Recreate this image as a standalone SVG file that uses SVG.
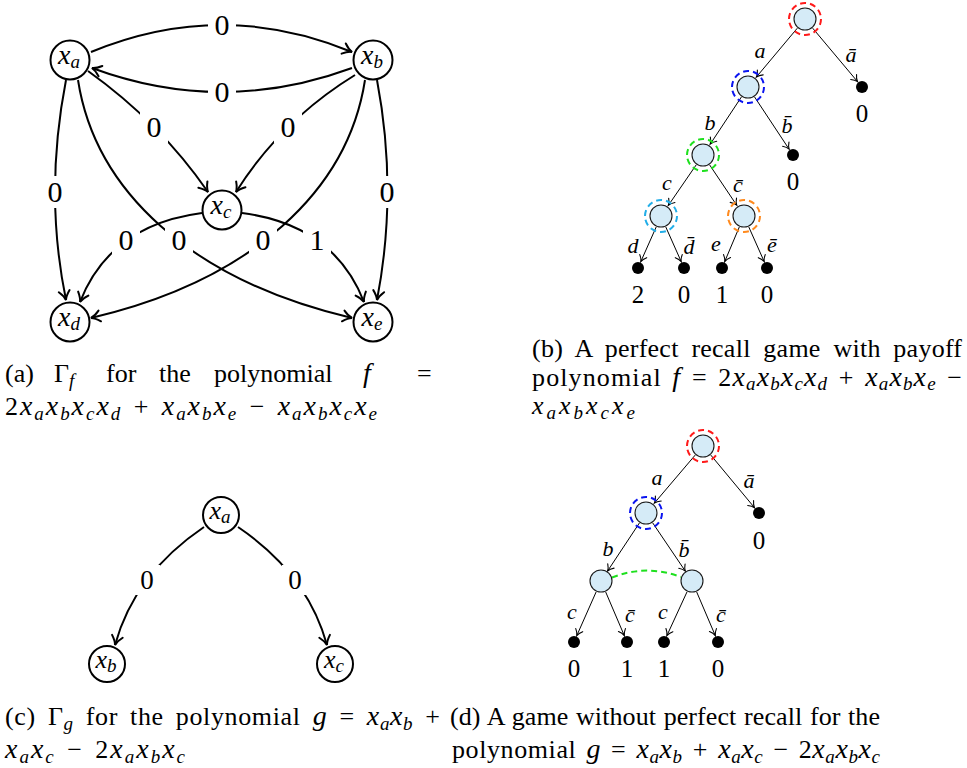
<svg xmlns="http://www.w3.org/2000/svg" width="967" height="768" viewBox="0 0 967 768" font-family="Liberation Serif, serif">
<style>
text { font-family: Liberation Serif, serif; fill: #000; }
.e { fill: none; stroke: #000; stroke-width: 2; }
.et { fill: none; stroke: #000; stroke-width: 1; }
.node { fill: #fff; stroke: #000; stroke-width: 2; }
.nl { font-style: italic; font-size: 28px; }
.nl2 { font-style: italic; font-size: 26px; }
.sub { font-size: 19px; }
.lb { fill: #fff; stroke: none; }
.lt { font-size: 30px; text-anchor: middle; }
.lt2 { font-size: 27px; text-anchor: middle; }
.tn { fill: #D5EBF7; stroke: #1a1a1a; stroke-width: 1.1; }
.leaf { fill: #000; }
.ring { fill: none; stroke-width: 2; stroke-dasharray: 6 4; }
.al { font-size: 22px; font-style: italic; text-anchor: middle; }
.pay { font-size: 25px; text-anchor: middle; }
.cap { font-size: 26px; }
.m { font-style: italic; font-size: 28px; }
.s { font-style: italic; font-size: 19px; }
</style>
<defs>
<marker id="arr" markerUnits="userSpaceOnUse" viewBox="-11 -7 13 14" refX="0" refY="0" markerWidth="13" markerHeight="14" orient="auto">
<path d="M-9,-5.5 Q-4,-1 0,0 Q-4,1 -9,5.5" fill="none" stroke="#000" stroke-width="2" stroke-linecap="round"/>
</marker>
<marker id="arrs" markerUnits="userSpaceOnUse" viewBox="-8 -5 10 10" refX="0" refY="0" markerWidth="10" markerHeight="10" orient="auto">
<path d="M-6,-3.8 Q-3,-0.8 0,0 Q-3,0.8 -6,3.8" fill="none" stroke="#000" stroke-width="1.1" stroke-linecap="round"/>
</marker>
</defs>

<!-- (a) graph Gamma_f -->
<g id="edges-a">
<path class="e" d="M91,52 Q222,-2 352,52" marker-end="url(#arr)"/>
<path class="e" d="M352,68 Q222,116 92,68" marker-end="url(#arr)"/>
<path class="e" d="M88,71 Q160,122.5 208,192" marker-end="url(#arr)"/>
<path class="e" d="M355,75 Q281,120.5 236,192" marker-end="url(#arr)"/>
<path class="e" d="M66,80 Q44,193 66,300" marker-end="url(#arr)"/>
<path class="e" d="M377,80 Q398,191 377,300" marker-end="url(#arr)"/>
<path class="e" d="M78,80 C95,190 190,280 352,318" marker-end="url(#arr)"/>
<path class="e" d="M365,80 C348,190 253,280 91,318" marker-end="url(#arr)"/>
<path class="e" d="M202,213 Q110,225 80,302" marker-end="url(#arr)"/>
<path class="e" d="M242,213 Q334,225 364,302" marker-end="url(#arr)"/>
<rect class="lb" x="208" y="9" width="28" height="32"/><text class="lt" x="222" y="35">0</text>
<rect class="lb" x="208" y="76" width="28" height="32"/><text class="lt" x="222" y="102">0</text>
<rect class="lb" x="140" y="111" width="28" height="32"/><text class="lt" x="154" y="137">0</text>
<rect class="lb" x="274" y="111" width="28" height="32"/><text class="lt" x="288" y="137">0</text>
<rect class="lb" x="41" y="176" width="28" height="32"/><text class="lt" x="55" y="202">0</text>
<rect class="lb" x="373" y="176" width="28" height="32"/><text class="lt" x="387" y="202">0</text>
<rect class="lb" x="112" y="224" width="28" height="32"/><text class="lt" x="126" y="250">0</text>
<rect class="lb" x="165" y="224" width="28" height="32"/><text class="lt" x="179" y="250">0</text>
<rect class="lb" x="249" y="224" width="28" height="32"/><text class="lt" x="263" y="250">0</text>
<rect class="lb" x="303" y="224" width="28" height="32"/><text class="lt" x="317" y="250">1</text>
</g>
<g id="node-a-xa"><circle class="node" cx="70" cy="60" r="19.5"/><text class="nl" x="69" y="64" text-anchor="middle">x<tspan class="sub" dy="4">a</tspan></text></g>
<g id="node-a-xb"><circle class="node" cx="373" cy="60" r="19.5"/><text class="nl" x="372" y="64" text-anchor="middle">x<tspan class="sub" dy="4">b</tspan></text></g>
<g id="node-a-xc"><circle class="node" cx="222" cy="210" r="19.5"/><text class="nl" x="221" y="214" text-anchor="middle">x<tspan class="sub" dy="4">c</tspan></text></g>
<g id="node-a-xd"><circle class="node" cx="70" cy="322" r="19.5"/><text class="nl" x="69" y="326" text-anchor="middle">x<tspan class="sub" dy="4">d</tspan></text></g>
<g id="node-a-xe"><circle class="node" cx="373" cy="322" r="19.5"/><text class="nl" x="372" y="326" text-anchor="middle">x<tspan class="sub" dy="4">e</tspan></text></g>

<!-- (b) perfect recall tree -->
<g id="edges-b">
<line class="et" x1="797.3" y1="28.2" x2="756.4" y2="77" marker-end="url(#arrs)"/>
<line class="et" x1="812.7" y1="28.2" x2="857.5" y2="81.6" marker-end="url(#arrs)"/>
<line class="et" x1="741.4" y1="97" x2="710.2" y2="144.2" marker-end="url(#arrs)"/>
<line class="et" x1="754.6" y1="97" x2="789.1" y2="149.2" marker-end="url(#arrs)"/>
<line class="et" x1="696.2" y1="164.9" x2="668.4" y2="205.3" marker-end="url(#arrs)"/>
<line class="et" x1="709.7" y1="165" x2="736.7" y2="205.2" marker-end="url(#arrs)"/>
<line class="et" x1="656.2" y1="227" x2="640.8" y2="261.6" marker-end="url(#arrs)"/>
<line class="et" x1="665.8" y1="227" x2="681.2" y2="261.6" marker-end="url(#arrs)"/>
<line class="et" x1="739.3" y1="227" x2="724.7" y2="261.6" marker-end="url(#arrs)"/>
<line class="et" x1="748.8" y1="227" x2="764.2" y2="261.6" marker-end="url(#arrs)"/>
<text class="al" x="760" y="58">a</text>
<text class="al" x="851" y="62">ā</text>
<text class="al" x="710" y="130">b</text>
<text class="al" x="787" y="133">b̄</text>
<text class="al" x="667" y="190">c</text>
<text class="al" x="738" y="192">c̄</text>
<text class="al" x="633" y="253">d</text>
<text class="al" x="689" y="254">d̄</text>
<text class="al" x="716" y="251">e</text>
<text class="al" x="772" y="252">ē</text>
</g>
<g id="tb-root"><circle class="tn" cx="805" cy="19" r="11"/><circle class="ring" stroke="#FF1A1A" cx="805" cy="19" r="16"/></g>
<g id="tb-a"><circle class="tn" cx="748" cy="87" r="11"/><circle class="ring" stroke="#0A14F0" cx="748" cy="87" r="16"/></g>
<g id="tb-abar"><circle class="leaf" cx="862" cy="87" r="6"/><text class="pay" x="862" y="122">0</text></g>
<g id="tb-b"><circle class="tn" cx="703" cy="155" r="11"/><circle class="ring" stroke="#1EE01E" cx="703" cy="155" r="16"/></g>
<g id="tb-bbar"><circle class="leaf" cx="793" cy="155" r="6"/><text class="pay" x="793" y="190">0</text></g>
<g id="tb-c"><circle class="tn" cx="661" cy="216" r="11"/><circle class="ring" stroke="#22AEE8" cx="661" cy="216" r="16"/></g>
<g id="tb-cbar"><circle class="tn" cx="744" cy="216" r="11"/><circle class="ring" stroke="#FF8A1E" cx="744" cy="216" r="16"/></g>
<g id="tb-d"><circle class="leaf" cx="638" cy="268" r="6"/><text class="pay" x="638" y="303">2</text></g>
<g id="tb-dbar"><circle class="leaf" cx="684" cy="268" r="6"/><text class="pay" x="684" y="303">0</text></g>
<g id="tb-e"><circle class="leaf" cx="722" cy="268" r="6"/><text class="pay" x="722" y="303">1</text></g>
<g id="tb-ebar"><circle class="leaf" cx="767" cy="268" r="6"/><text class="pay" x="767" y="303">0</text></g>

<!-- captions (a), (b) -->
<g id="cap-a">
<text class="cap" x="5" y="382">(a)</text>
<text class="cap" x="54" y="382">Γ<tspan class="s" dy="5">f</tspan></text>
<text class="cap" x="106" y="382">for</text>
<text class="cap" x="159" y="382">the</text>
<text class="cap" x="214" y="382">polynomial</text>
<text class="cap m" x="363" y="382">f</text>
<text class="cap" x="417" y="382">=</text>
<text class="cap" x="5" y="415" textLength="372" lengthAdjust="spacing" style="word-spacing:3px">2<tspan class="m">x</tspan><tspan class="s" dy="5">a</tspan><tspan class="m" dy="-5">x</tspan><tspan class="s" dy="5">b</tspan><tspan class="m" dy="-5">x</tspan><tspan class="s" dy="5">c</tspan><tspan class="m" dy="-5">x</tspan><tspan class="s" dy="5">d</tspan><tspan dy="-5"> + </tspan><tspan class="m">x</tspan><tspan class="s" dy="5">a</tspan><tspan class="m" dy="-5">x</tspan><tspan class="s" dy="5">b</tspan><tspan class="m" dy="-5">x</tspan><tspan class="s" dy="5">e</tspan><tspan dy="-5"> − </tspan><tspan class="m">x</tspan><tspan class="s" dy="5">a</tspan><tspan class="m" dy="-5">x</tspan><tspan class="s" dy="5">b</tspan><tspan class="m" dy="-5">x</tspan><tspan class="s" dy="5">c</tspan><tspan class="m" dy="-5">x</tspan><tspan class="s" dy="5">e</tspan></text>
</g>
<g id="cap-b">
<text class="cap" x="532" y="357" textLength="430" lengthAdjust="spacing" style="word-spacing:6px">(b) A perfect recall game with payoff</text>
<text class="cap" x="532" y="386" textLength="430" lengthAdjust="spacing" style="word-spacing:3px">polynomial <tspan class="m">f</tspan> = 2<tspan class="m">x</tspan><tspan class="s" dy="4">a</tspan><tspan class="m" dy="-4">x</tspan><tspan class="s" dy="4">b</tspan><tspan class="m" dy="-4">x</tspan><tspan class="s" dy="4">c</tspan><tspan class="m" dy="-4">x</tspan><tspan class="s" dy="4">d</tspan><tspan dy="-4"> + </tspan><tspan class="m">x</tspan><tspan class="s" dy="4">a</tspan><tspan class="m" dy="-4">x</tspan><tspan class="s" dy="4">b</tspan><tspan class="m" dy="-4">x</tspan><tspan class="s" dy="4">e</tspan><tspan dy="-4"> −</tspan></text>
<text class="cap" x="532" y="414" textLength="103" lengthAdjust="spacing"><tspan class="m" style="font-size:26px">x</tspan><tspan class="s" dy="5">a</tspan><tspan class="m" dy="-5" style="font-size:26px">x</tspan><tspan class="s" dy="5">b</tspan><tspan class="m" dy="-5" style="font-size:26px">x</tspan><tspan class="s" dy="5">c</tspan><tspan class="m" dy="-5" style="font-size:26px">x</tspan><tspan class="s" dy="5">e</tspan></text>
</g>

<!-- (c) graph Gamma_g -->
<g id="edges-c">
<path class="e" d="M204,527 Q134.5,574 115,645" marker-end="url(#arr)"/>
<path class="e" d="M238,527 Q307.5,574 327,645" marker-end="url(#arr)"/>
<rect class="lb" x="134" y="565" width="26" height="30"/><text class="lt2" x="147" y="589">0</text>
<rect class="lb" x="282" y="565" width="26" height="30"/><text class="lt2" x="295" y="589">0</text>
</g>
<g id="node-c-xa"><circle class="node" cx="221" cy="515" r="18"/><text class="nl2" x="220" y="519" text-anchor="middle">x<tspan class="sub" font-size="18" dy="4">a</tspan></text></g>
<g id="node-c-xb"><circle class="node" cx="107" cy="664" r="18"/><text class="nl2" x="106" y="668" text-anchor="middle">x<tspan class="sub" font-size="18" dy="4">b</tspan></text></g>
<g id="node-c-xc"><circle class="node" cx="335" cy="664" r="18"/><text class="nl2" x="334" y="668" text-anchor="middle">x<tspan class="sub" font-size="18" dy="4">c</tspan></text></g>

<!-- (d) imperfect recall tree -->
<g id="edges-d">
<line class="et" x1="695.2" y1="455.1" x2="654.4" y2="503.1" marker-end="url(#arrs)"/>
<line class="et" x1="710.8" y1="455.1" x2="754.5" y2="507.7" marker-end="url(#arrs)"/>
<line class="et" x1="639.4" y1="523" x2="607.6" y2="571" marker-end="url(#arrs)"/>
<line class="et" x1="652.7" y1="522.9" x2="685.3" y2="571.1" marker-end="url(#arrs)"/>
<line class="et" x1="596.1" y1="592" x2="576.8" y2="635.6" marker-end="url(#arrs)"/>
<line class="et" x1="605.7" y1="592" x2="624.3" y2="635.6" marker-end="url(#arrs)"/>
<line class="et" x1="687" y1="591.9" x2="666.9" y2="635.6" marker-end="url(#arrs)"/>
<line class="et" x1="696.7" y1="592" x2="715.3" y2="635.6" marker-end="url(#arrs)"/>
<path d="M612,577.5 Q646.5,564 681,577" fill="none" stroke="#1EE01E" stroke-width="2" stroke-dasharray="6 4"/>
<text class="al" x="657" y="485">a</text>
<text class="al" x="749" y="488">ā</text>
<text class="al" x="608" y="556">b</text>
<text class="al" x="684" y="557">b̄</text>
<text class="al" x="572" y="619">c</text>
<text class="al" x="630" y="622">c̄</text>
<text class="al" x="663" y="619">c</text>
<text class="al" x="721" y="622">c̄</text>
</g>
<g id="td-root"><circle class="tn" cx="703" cy="446" r="11"/><circle class="ring" stroke="#FF1A1A" cx="703" cy="446" r="16"/></g>
<g id="td-a"><circle class="tn" cx="646" cy="513" r="11"/><circle class="ring" stroke="#0A14F0" cx="646" cy="513" r="16"/></g>
<g id="td-abar"><circle class="leaf" cx="759" cy="513" r="6"/><text class="pay" x="759" y="549">0</text></g>
<g id="td-b"><circle class="tn" cx="601" cy="581" r="11"/></g>
<g id="td-bbar"><circle class="tn" cx="692" cy="581" r="11"/></g>
<g id="td-l1"><circle class="leaf" cx="574" cy="642" r="6"/><text class="pay" x="574" y="677">0</text></g>
<g id="td-l2"><circle class="leaf" cx="627" cy="642" r="6"/><text class="pay" x="627" y="677">1</text></g>
<g id="td-l3"><circle class="leaf" cx="664" cy="642" r="6"/><text class="pay" x="664" y="677">1</text></g>
<g id="td-l4"><circle class="leaf" cx="718" cy="642" r="6"/><text class="pay" x="718" y="677">0</text></g>

<!-- captions (c), (d) -->
<g id="cap-c">
<text class="cap" x="5" y="725" textLength="435" lengthAdjust="spacing" style="word-spacing:5px">(c) Γ<tspan class="s" dy="5">g</tspan><tspan dy="-5"> for the polynomial </tspan><tspan class="m">g</tspan> = <tspan class="m">x</tspan><tspan class="s" dy="5">a</tspan><tspan class="m" dy="-5">x</tspan><tspan class="s" dy="5">b</tspan><tspan dy="-5"> +</tspan></text>
<text class="cap" x="5" y="758" textLength="180" lengthAdjust="spacing" style="word-spacing:3px"><tspan class="m">x</tspan><tspan class="s" dy="5">a</tspan><tspan class="m" dy="-5">x</tspan><tspan class="s" dy="5">c</tspan><tspan dy="-5"> − 2</tspan><tspan class="m">x</tspan><tspan class="s" dy="5">a</tspan><tspan class="m" dy="-5">x</tspan><tspan class="s" dy="5">b</tspan><tspan class="m" dy="-5">x</tspan><tspan class="s" dy="5">c</tspan></text>
</g>
<g id="cap-d">
<text class="cap" x="450" y="725" textLength="430" lengthAdjust="spacing" style="word-spacing:1px">(d) A game without perfect recall for the</text>
<text class="cap" x="452" y="758" textLength="428" lengthAdjust="spacing" style="word-spacing:3px">polynomial <tspan class="m">g</tspan> = <tspan class="m">x</tspan><tspan class="s" dy="5">a</tspan><tspan class="m" dy="-5">x</tspan><tspan class="s" dy="5">b</tspan><tspan dy="-5"> + </tspan><tspan class="m">x</tspan><tspan class="s" dy="5">a</tspan><tspan class="m" dy="-5">x</tspan><tspan class="s" dy="5">c</tspan><tspan dy="-5"> − 2</tspan><tspan class="m">x</tspan><tspan class="s" dy="5">a</tspan><tspan class="m" dy="-5">x</tspan><tspan class="s" dy="5">b</tspan><tspan class="m" dy="-5">x</tspan><tspan class="s" dy="5">c</tspan></text>
</g>
</svg>
